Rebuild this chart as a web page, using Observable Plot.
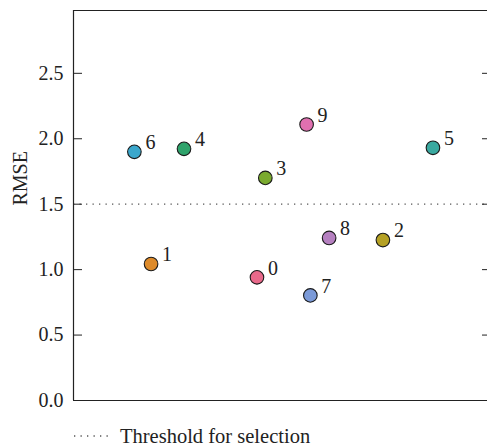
<!DOCTYPE html>
<html>
<head>
<meta charset="utf-8">
<script src="https://cdn.jsdelivr.net/npm/d3@7"></script>
<script src="https://cdn.jsdelivr.net/npm/@observablehq/plot@0.6"></script>
<style>
  body { margin: 0; background: #fff; }
  #chart { width: 487px; }
  #chart > svg { display: block; }
  .legend { display: flex; align-items: center; height: 24px; margin-top: 12px; padding-left: 73px;
    font-family: 'Liberation Serif', serif; font-size: 20.5px; color: #222; }
  .legend span { margin-left: 11px; line-height: 1; }
</style>
</head>
<body>
<div id="chart"></div>
<script>
const ids = [0, 1, 2, 3, 4, 5, 6, 7, 8, 9];
const rmse = [0.941, 1.043, 1.226, 1.701, 1.923, 1.931, 1.900, 0.803, 1.242, 2.109];
const jitter = [-0.060, -0.314, 0.242, -0.040, -0.235, 0.362, -0.354, 0.068, 0.113, 0.059];
const colors = ["#e8698a", "#dd8a2a", "#b5a124", "#7aaa2f", "#2fa36b", "#3aa9a0", "#3aa7cc", "#7b9ad8", "#b580c0", "#e070b0"];
const threshold = [1.5];
const yTicks = [0, 0.5, 1.0, 1.5, 2.0, 2.5];
const yDomain = [0, 2.98];
const xDomain = [-0.5, 0.5];
const yLabel = "RMSE";
const legendLabel = "Threshold for selection";

const data = ids.map((id, i) => ({id, x: jitter[i], y: rmse[i], color: colors[i]}));
const fmt = d3.format(".1f");
const serif = "'Liberation Serif', serif";

const plot = Plot.plot({
  width: 487,
  height: 412,
  marginLeft: 73,
  marginRight: -3,
  marginTop: 10,
  marginBottom: 12,
  x: {domain: xDomain, axis: null},
  y: {domain: yDomain, axis: null},
  color: {type: "identity"},
  style: {fontFamily: serif, fontSize: "20px", color: "#222", background: "#fff"},
  marks: [
    Plot.ruleY(threshold, {stroke: "#555", strokeWidth: 1.3, strokeDasharray: "1.3,5.2"}),
    Plot.ruleY(yDomain, {stroke: "#222", strokeWidth: 1.2}),
    Plot.ruleX([xDomain[0]], {stroke: "#222", strokeWidth: 1.2}),
    Plot.axisY(yTicks, {anchor: "left", tickSize: 9, dx: 9, tickPadding: 10, tickFormat: fmt,
      stroke: "#222", label: null, fontFamily: serif, fontSize: 20}),
    Plot.axisY(yTicks, {anchor: "right", tickSize: 9, dx: -9, tickFormat: () => "", stroke: "#222", label: null}),
    Plot.text([yLabel], {frameAnchor: "left", rotate: -90, dx: -53, fill: "#222", fontSize: 20, fontFamily: serif}),
    Plot.dot(data, {x: "x", y: "y", r: 6.8, fill: "color", stroke: "#1a1a1a", strokeWidth: 1.1}),
    Plot.text(data, {x: "x", y: "y", text: "id", textAnchor: "start", dx: 11, dy: -9, fill: "#222", fontSize: 20, fontFamily: serif})
  ]
});

const chart = document.getElementById("chart");
chart.appendChild(plot);
const legend = document.createElement("div");
legend.className = "legend";
legend.innerHTML = `<svg width="36" height="6" style="display:block"><line x1="1" x2="36" y1="3" y2="3" stroke="#555" stroke-width="1.3" stroke-dasharray="1.3,5.2"></line></svg><span>${legendLabel}</span>`;
chart.appendChild(legend);
</script>
</body>
</html>
